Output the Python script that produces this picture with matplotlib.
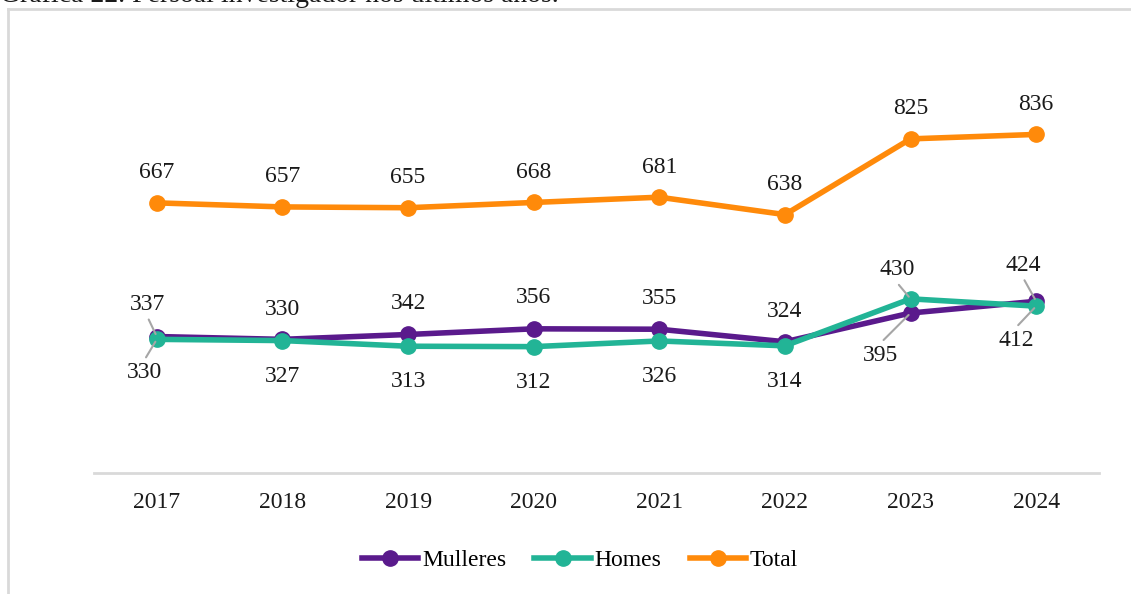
import matplotlib.pyplot as plt
from matplotlib.lines import Line2D

# datos
anos = ['2017', '2018', '2019', '2020', '2021', '2022', '2023', '2024']
mulleres = [337, 330, 342, 356, 355, 324, 395, 424]
homes = [330, 327, 313, 312, 326, 314, 430, 412]
total = [667, 657, 655, 668, 681, 638, 825, 836]

c_mul = '#5A1A8C'
c_hom = '#22B496'
c_tot = '#FF8A0A'
c_txt = '#1a1a1a'

plt.rcParams['font.family'] = ['Liberation Serif', 'DejaVu Serif']

fig = plt.figure(figsize=(11.31, 5.94), dpi=100)
ax = fig.add_axes([94 / 1131, 1 - 473 / 594, (1099 - 94) / 1131, (473 - 68) / 594])

x = list(range(len(anos)))
ax.plot(x, mulleres, color=c_mul, lw=4, marker='o', ms=11, label='Mulleres', zorder=3)
ax.plot(x, homes, color=c_hom, lw=4, marker='o', ms=11, label='Homes', zorder=3)
ax.plot(x, total, color=c_tot, lw=4, marker='o', ms=11, label='Total', zorder=3)

ax.set_xlim(-0.5, 7.5)
ax.set_ylim(0, 1000)
ax.set_yticks([])
ax.set_xticks(x)
ax.set_xticklabels(anos, fontsize=17, color=c_txt)
ax.tick_params(axis='x', length=0, pad=14)
for s in ['top', 'right', 'left']:
    ax.spines[s].set_visible(False)
ax.spines['bottom'].set_color('#d9d9d9')
ax.spines['bottom'].set_linewidth(2)

fs = 17
# etiquetas Total (arriba)
for i, v in enumerate(total):
    ax.annotate(str(v), (i, v), xytext=(0, 30), textcoords='offset pixels',
                ha='center', va='center', fontsize=fs, color=c_txt)

# desprazamentos das etiquetas (pixels) e se levan liña guía
off_mul = [(-9, 32, True), (0, 30, False), (0, 31, False), (0, 31, False),
           (0, 31, False), (0, 30, False), (-30, -42, True), (-13, 36, True)]
off_hom = [(-12, -33, True), (0, -36, False), (0, -35, False), (0, -36, False),
           (0, -36, False), (0, -36, False), (-13, 29, True), (-20, -34, True)]

for vals, offs in [(mulleres, off_mul), (homes, off_hom)]:
    for i, v in enumerate(vals):
        dx, dy, guia = offs[i]
        ax.annotate(str(v), (i, v), xytext=(dx, dy), textcoords='offset pixels',
                    ha='center', va='center', fontsize=fs, color=c_txt)
        if guia:
            sy = 1 if dy > 0 else -1
            ax.annotate('', (i, v), xytext=(dx * 0.9, dy - sy * 15),
                        textcoords='offset pixels',
                        arrowprops=dict(arrowstyle='-', color='#a6a6a6', lw=1.5,
                                        shrinkA=0, shrinkB=2))

handles = [Line2D([], [], color=c, lw=4, marker='o', ms=11) for c in (c_mul, c_hom, c_tot)]
fig.legend(handles, ['Mulleres', 'Homes', 'Total'], loc='center',
           bbox_to_anchor=(580 / 1131, 1 - 560 / 594), ncol=3, frameon=False,
           fontsize=17, handlelength=2.4, handletextpad=0.15, columnspacing=1.2)

# marco do gráfico
fig.add_artist(Line2D([8 / 1131, 1], [1 - 9 / 594, 1 - 9 / 594], color='#d9d9d9', lw=2))
fig.add_artist(Line2D([8 / 1131, 8 / 1131], [0, 1 - 9 / 594], color='#d9d9d9', lw=2))

# título cortado na parte superior
fig.text(0, 1 - 2 / 594, 'Gráfica 22. Persoal investigador nos últimos anos.',
         fontsize=20, color=c_txt, va='baseline', ha='left')

fig.savefig('out.png', dpi=100)
